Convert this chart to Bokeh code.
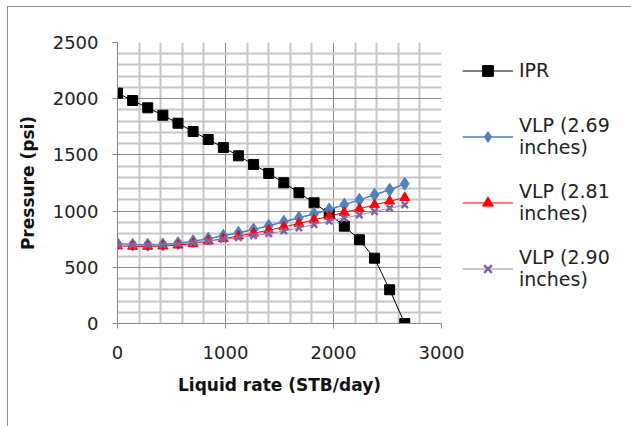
from bokeh.plotting import figure
from bokeh.models import Range1d, FixedTicker, Legend, LegendItem
from bokeh.embed import file_html
from bokeh.resources import INLINE

# ---- data ----
rates = [0, 140, 280, 420, 560, 700, 840, 980, 1120, 1260, 1400, 1540,
         1680, 1820, 1960, 2100, 2240, 2380, 2520, 2660]
ipr = [2049, 1984, 1919, 1853, 1782, 1708, 1637, 1566, 1492, 1415, 1335,
       1252, 1163, 1074, 976, 866, 745, 581, 300, 0]
vlp_269 = [709, 700, 700, 703, 714, 732, 754, 780, 807, 836, 869, 905,
           940, 975, 1015, 1057, 1100, 1145, 1190, 1243]
vlp_281 = [690, 686, 686, 689, 697, 712, 733, 755, 778, 803, 830, 860,
           890, 922, 955, 988, 1021, 1055, 1088, 1120]
vlp_290 = [702, 698, 698, 701, 709, 720, 733, 748, 764, 781, 800, 823,
           850, 880, 910, 938, 966, 995, 1025, 1055]
x_ticks = [0, 1000, 2000, 3000]
x_minor = [200, 400, 600, 800, 1200, 1400, 1600, 1800, 2200, 2400, 2600, 2800]
y_ticks = [0, 500, 1000, 1500, 2000, 2500]
y_minor = [100, 200, 300, 400, 600, 700, 800, 900, 1100, 1200, 1300, 1400,
           1600, 1700, 1800, 1900, 2100, 2200, 2300, 2400]
legend_labels = ["IPR", "VLP (2.69\ninches)", "VLP (2.81\ninches)",
                 "VLP (2.90\ninches)"]

FONT = "DejaVu Sans"
TXT = "#222222"

p = figure(frame_width=324, frame_height=281, output_backend="svg",
           toolbar_location=None,
           x_range=Range1d(0, 3000), y_range=Range1d(0, 2500),
           min_border_left=109, min_border_top=35, min_border_right=190,
           min_border_bottom=103)
p.styles = {"margin-left": "7px", "margin-top": "6px",
            "border-left": "1px solid #8c8c8c", "border-top": "1px solid #8c8c8c"}
p.outline_line_color = None
p.background_fill_color = "white"

p.xaxis.ticker = FixedTicker(ticks=x_ticks, minor_ticks=x_minor)
p.yaxis.ticker = FixedTicker(ticks=y_ticks, minor_ticks=y_minor)

for ax in (p.xaxis[0], p.yaxis[0]):
    ax.axis_line_color = "#868686"
    ax.major_tick_line_color = "#868686"
    ax.major_tick_out = 5
    ax.major_tick_in = 0
    ax.minor_tick_line_color = None
    ax.major_label_text_font = FONT
    ax.major_label_text_font_size = "18px"
    ax.major_label_text_color = TXT
    ax.axis_label_text_font = FONT
    ax.axis_label_text_font_size = "17px"
    ax.axis_label_text_font_style = "bold"
    ax.axis_label_text_color = "#111111"

p.xaxis.axis_label = "Liquid rate (STB/day)"
p.yaxis.axis_label = "Pressure (psi)"
p.xaxis.major_label_standoff = 17
p.yaxis.major_label_standoff = 14
p.xaxis.axis_label_standoff = 13
p.yaxis.axis_label_standoff = 12

for g in (p.xgrid[0], p.ygrid[0]):
    g.grid_line_color = "#8a8a8a"
    g.grid_line_width = 1
    g.minor_grid_line_color = "#c6c6c6"
    g.minor_grid_line_width = 2

l1 = p.line(rates, ipr, line_color="black", line_width=1)
s1 = p.scatter(rates, ipr, marker="square", size=10, fill_color="black",
               line_color="black")
l2 = p.line(rates, vlp_269, line_color="#4F81BD", line_width=1.5)
s2 = p.scatter(rates, vlp_269, marker="diamond", size=13, fill_color="#4F81BD",
               line_color="#4F81BD")
l3 = p.line(rates, vlp_281, line_color="#FF0000", line_width=1)
s3 = p.scatter(rates, vlp_281, marker="triangle", size=10, fill_color="#FF0000",
               line_color="#FF0000")
l4 = p.line(rates, vlp_290, line_color="#9E89BD", line_width=1)
s4 = p.scatter(rates, vlp_290, marker="x", size=9, line_color="#8064A2",
               line_width=2.5)

legend = Legend(items=[
    LegendItem(label=legend_labels[0], renderers=[l1, s1]),
    LegendItem(label=legend_labels[1], renderers=[l2, s2]),
    LegendItem(label=legend_labels[2], renderers=[l3, s3]),
    LegendItem(label=legend_labels[3], renderers=[l4, s4]),
], location=(21, 33))
legend.border_line_color = None
legend.background_fill_alpha = 0
legend.glyph_width = 51
legend.glyph_height = 27
legend.label_height = 44
legend.label_standoff = 6
legend.label_text_font = FONT
legend.label_text_font_size = "19px"
legend.label_text_color = TXT
legend.spacing = 22
legend.padding = 0
legend.margin = 0
p.add_layout(legend, "right")

open("out.html", "w").write(file_html(p, INLINE))
